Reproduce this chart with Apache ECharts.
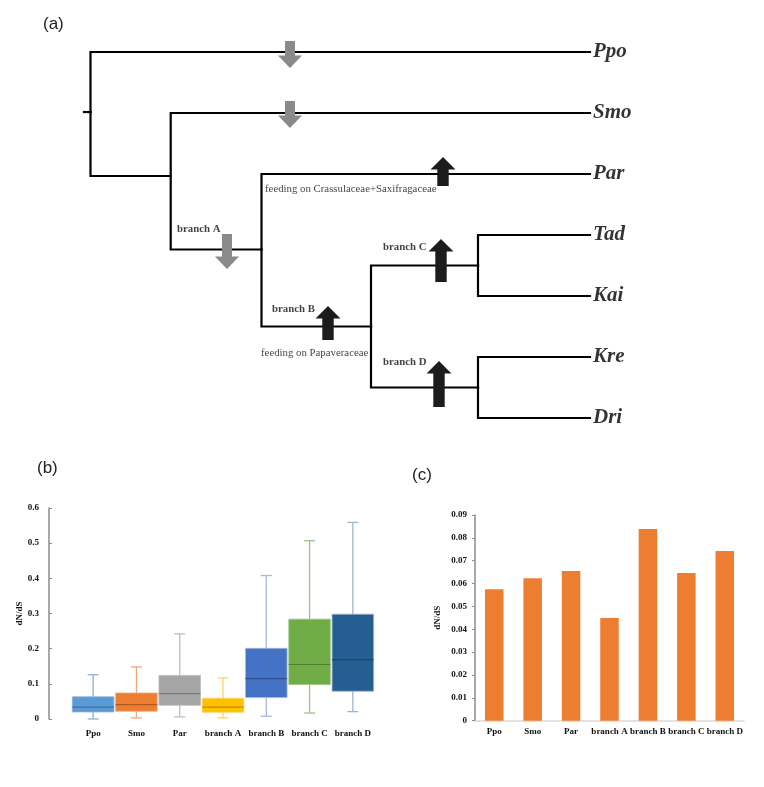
<!DOCTYPE html>
<html>
<head>
<meta charset="utf-8">
<script src="https://cdn.jsdelivr.net/npm/echarts@6/dist/echarts.min.js"></script>
<style>html,body{margin:0;padding:0;background:#fff}#c{width:764px;height:787px}</style>
</head>
<body>
<div id="c"></div>
<script>
// ---------- DATA ----------
// Tree nodes: name, depth (x), vertical position (y, leaf index units), parent
var treeNodes = [
  ['stub', 0, 0.984, null],
  ['root', 6.5, 0.984, 'stub'],
  ['Ppo', 506, 0, 'root'],
  ['n1', 86.7, 2.033, 'root'],
  ['Smo', 506, 1, 'n1'],
  ['n2', 177.5, 3.238, 'n1'],
  ['Par', 506, 2, 'n2'],
  ['n3', 287, 4.5, 'n2'],
  ['nC', 394, 3.5, 'n3'],
  ['nD', 394, 5.5, 'n3'],
  ['Tad', 506, 3, 'nC'],
  ['Kai', 506, 4, 'nC'],
  ['Kre', 506, 5, 'nD'],
  ['Dri', 506, 6, 'nD']
];
var leafNames = ['Ppo', 'Smo', 'Par', 'Tad', 'Kai', 'Kre', 'Dri'];
// Arrows: x, tail y, tip y (down = decrease, up = increase)
var arrowsDown = [[206, -0.18, 0.262], [206, 0.803, 1.246], [143, 2.984, 3.557]];
var arrowsUp = [[359, 2.197, 1.721], [357, 3.770, 3.066], [244, 4.721, 4.164], [355, 5.820, 5.066]];
// Annotations: text, x, y, bold
var treeNotes = [
  ['branch A', 93, 2.902, true],
  ['branch B', 188, 4.213, true],
  ['branch C', 299, 3.197, true],
  ['branch D', 299, 5.082, true],
  ['feeding on Crassulaceae+Saxifragaceae', 181, 2.246, false],
  ['feeding on Papaveraceae', 177, 4.93, false]
];

var categories = ['Ppo', 'Smo', 'Par', 'branch A', 'branch B', 'branch C', 'branch D'];
// boxplot: min, Q1, median, Q3, max
var boxMin = [0.000, 0.003, 0.006, 0.003, 0.008, 0.017, 0.021];
var boxQ1 = [0.020, 0.022, 0.039, 0.019, 0.061, 0.098, 0.079];
var boxMed = [0.034, 0.041, 0.072, 0.034, 0.115, 0.155, 0.169];
var boxQ3 = [0.063, 0.074, 0.124, 0.059, 0.201, 0.284, 0.298];
var boxMax = [0.126, 0.148, 0.242, 0.117, 0.408, 0.507, 0.559];
var boxFill = ['#5B9BD5', '#ED7D31', '#A5A5A5', '#FFC000', '#4472C4', '#70AD47', '#255E91'];
var boxMedColor = ['#41719C', '#AE5A21', '#7B7B7B', '#BC8C00', '#2F528F', '#507E32', '#1B4570'];
var boxWhisker = ['#8DB0D8', '#F1A878', '#BDBDBD', '#FFD35C', '#A3B7E2', '#9CC285', '#9DB3CF'];

// bar chart values (dN/dS)
var barValues = [0.0575, 0.0623, 0.0655, 0.0449, 0.0839, 0.0646, 0.0742];

// ---------- BUILD ----------
var serif = '"Liberation Serif", "Times New Roman", serif';
var sans = '"Liberation Sans", Arial, sans-serif';
var nodeMap = {};
treeNodes.forEach(function (n) { nodeMap[n[0]] = n; });
var edges = [];
treeNodes.forEach(function (n) {
  if (n[3]) { var p = nodeMap[n[3]]; edges.push([p[1], p[2], n[1], n[2]]); }
});
var leaves = leafNames.map(function (nm) { var n = nodeMap[nm]; return [n[1], n[2], nm]; });
var boxData = categories.map(function (c, i) { return [i, boxMin[i], boxQ1[i], boxMed[i], boxQ3[i], boxMax[i]]; });

function arrowRender(color, shaftHalf, headHalf, headLen) {
  return function (params, api) {
    var tail = api.coord([api.value(0), api.value(1)]);
    var tip = api.coord([api.value(0), api.value(2)]);
    var cx = tail[0];
    var dir = tip[1] > tail[1] ? 1 : -1;
    var hb = tip[1] - dir * headLen;
    return {
      type: 'polygon',
      shape: { points: [[cx - shaftHalf, tail[1]], [cx - shaftHalf, hb], [cx - headHalf, hb], [cx, tip[1]], [cx + headHalf, hb], [cx + shaftHalf, hb], [cx + shaftHalf, tail[1]]] },
      style: { fill: color }
    };
  };
}

var chart = echarts.init(document.getElementById('c'), null, { renderer: 'canvas' });
var option = {
  backgroundColor: '#ffffff',
  animation: false,
  title: [
    { text: '(a)', left: 38, top: 11, textStyle: { fontFamily: sans, fontSize: 17, fontWeight: 'normal', color: '#222' } },
    { text: '(b)', left: 32, top: 455, textStyle: { fontFamily: sans, fontSize: 17, fontWeight: 'normal', color: '#222' } },
    { text: '(c)', left: 407, top: 462, textStyle: { fontFamily: sans, fontSize: 17, fontWeight: 'normal', color: '#222' } }
  ],
  grid: [
    { left: 84, top: 52, width: 506, height: 366 },
    { left: 71.5, top: 508, width: 303, height: 211 },
    { left: 475, top: 515, width: 269, height: 205.7 }
  ],
  xAxis: [
    { type: 'value', gridIndex: 0, min: 0, max: 506, show: false },
    { type: 'category', gridIndex: 1, data: categories, axisLine: { show: false }, axisTick: { show: false },
      axisLabel: { fontFamily: serif, fontWeight: 'bold', fontSize: 9, color: '#111', margin: 10, interval: 0 } },
    { type: 'category', gridIndex: 2, data: categories, axisLine: { show: true, lineStyle: { color: '#d9d9d9', width: 1.5 } }, axisTick: { show: false },
      axisLabel: { fontFamily: serif, fontWeight: 'bold', fontSize: 9, color: '#111', margin: 6, interval: 0 } }
  ],
  yAxis: [
    { type: 'value', gridIndex: 0, min: 0, max: 6, inverse: true, show: false },
    { type: 'value', gridIndex: 1, min: 0, max: 0.6, interval: 0.1, offset: 22.5,
      axisLine: { show: true, lineStyle: { color: '#8c8c8c', width: 1.5 } },
      axisTick: { show: true, inside: true, length: 3, lineStyle: { color: '#8c8c8c' } },
      splitLine: { show: false },
      axisLabel: { fontFamily: serif, fontWeight: 'bold', fontSize: 9, color: '#111', margin: 10, formatter: function (v) { return String(+v.toFixed(2)); } },
      name: 'dN/dS', nameLocation: 'middle', nameRotate: 90, nameGap: 24,
      nameTextStyle: { fontFamily: serif, fontWeight: 'bold', fontSize: 9, color: '#111' } },
    { type: 'value', gridIndex: 2, min: 0, max: 0.09, interval: 0.01,
      axisLine: { show: true, lineStyle: { color: '#8c8c8c', width: 1.5 } },
      axisTick: { show: true, length: 3, lineStyle: { color: '#8c8c8c' } },
      splitLine: { show: false },
      axisLabel: { fontFamily: serif, fontWeight: 'bold', fontSize: 9, color: '#111', margin: 8, formatter: function (v) { return String(+v.toFixed(2)); } },
      name: 'dN/dS', nameLocation: 'middle', nameRotate: 90, nameGap: 33,
      nameTextStyle: { fontFamily: serif, fontWeight: 'bold', fontSize: 9, color: '#111' } }
  ],
  series: [
    { type: 'custom', xAxisIndex: 0, yAxisIndex: 0, data: edges, encode: { x: [0, 2], y: [1, 3] }, silent: true,
      renderItem: function (params, api) {
        var p = api.coord([api.value(0), api.value(1)]);
        var c = api.coord([api.value(2), api.value(3)]);
        var corner = [p[0], c[1]];
        return { type: 'polyline', shape: { points: [p, corner, c] }, style: { stroke: '#000', lineWidth: 2.2, fill: null, lineJoin: 'miter', lineCap: 'square' } };
      } },
    { type: 'custom', xAxisIndex: 0, yAxisIndex: 0, data: arrowsDown, encode: { x: 0, y: [1, 2] }, silent: true, z: 5, clip: false,
      renderItem: arrowRender('#8a8a8a', 5, 12, 12.5) },
    { type: 'custom', xAxisIndex: 0, yAxisIndex: 0, data: arrowsUp, encode: { x: 0, y: [1, 2] }, silent: true, z: 5, clip: false,
      renderItem: arrowRender('#1c1c1c', 5.7, 12.5, 12.5) },
    { type: 'scatter', xAxisIndex: 0, yAxisIndex: 0, data: leaves, symbolSize: 0, silent: true,
      label: { show: true, position: 'right', distance: 3, formatter: function (p) { return p.data[2]; },
        fontFamily: serif, fontWeight: 'bold', fontStyle: 'italic', fontSize: 21, color: '#000' } },
    { type: 'scatter', xAxisIndex: 0, yAxisIndex: 0, symbolSize: 0, silent: true,
      data: treeNotes.map(function (n) { return { value: [n[1], n[2]], name: n[0],
        label: { fontWeight: n[3] ? 'bold' : 'normal' } }; }),
      label: { show: true, position: 'right', distance: 0, formatter: '{b}', fontFamily: serif, fontSize: 10.8, color: '#111' } },
    { type: 'custom', xAxisIndex: 1, yAxisIndex: 1, data: boxData, encode: { x: 0, y: [1, 2, 3, 4, 5] }, silent: true,
      renderItem: function (params, api) {
        var i = api.value(0);
        var band = api.size([1, 0])[0];
        var bw = band * 0.96;
        var pMin = api.coord([i, api.value(1)]);
        var pQ1 = api.coord([i, api.value(2)]);
        var pMed = api.coord([i, api.value(3)]);
        var pQ3 = api.coord([i, api.value(4)]);
        var pMax = api.coord([i, api.value(5)]);
        var cx = pMin[0];
        var wc = boxWhisker[i];
        var cap = 5.5;
        var wl = { stroke: wc, lineWidth: 1.3 };
        return { type: 'group', children: [
          { type: 'line', shape: { x1: cx, y1: pMax[1], x2: cx, y2: pQ3[1] }, style: wl },
          { type: 'line', shape: { x1: cx, y1: pMin[1], x2: cx, y2: pQ1[1] }, style: wl },
          { type: 'line', shape: { x1: cx - cap, y1: pMax[1], x2: cx + cap, y2: pMax[1] }, style: wl },
          { type: 'line', shape: { x1: cx - cap, y1: pMin[1], x2: cx + cap, y2: pMin[1] }, style: wl },
          { type: 'rect', shape: { x: cx - bw / 2, y: pQ3[1], width: bw, height: pQ1[1] - pQ3[1] }, style: { fill: boxFill[i], stroke: wc, lineWidth: 0.8 } },
          { type: 'line', shape: { x1: cx - bw / 2, y1: pMed[1], x2: cx + bw / 2, y2: pMed[1] }, style: { stroke: boxMedColor[i], lineWidth: 1.2 } }
        ] };
      } },
    { type: 'bar', xAxisIndex: 2, yAxisIndex: 2, data: barValues, barWidth: 18.5, silent: true,
      itemStyle: { color: '#ED7D31' } }
  ]
};
chart.setOption(option);
</script>
</body>
</html>
